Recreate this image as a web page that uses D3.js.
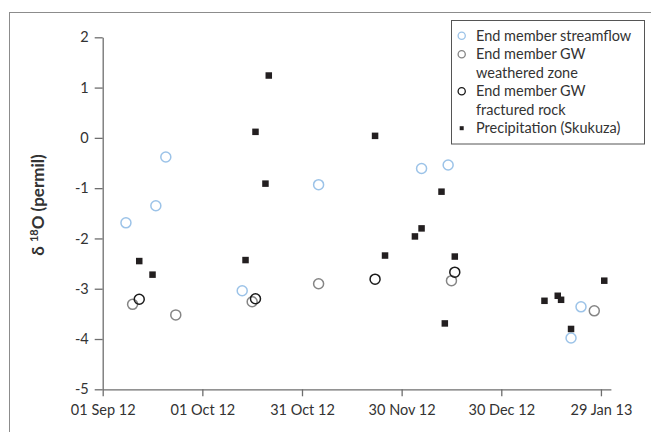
<!DOCTYPE html>
<html>
<head>
<meta charset="utf-8">
<script src="https://cdn.jsdelivr.net/npm/d3@7"></script>
<style>
  body { margin: 0; background: #fff; }
  svg { display: block; font-family: Lato, "Open Sans", sans-serif; }
</style>
</head>
<body>
<div id="chart"></div>
<script>
// --- données ---
const streamflowDates = ["2012-09-08", "2012-09-17", "2012-09-20", "2012-10-13", "2012-11-05", "2012-12-06", "2012-12-14", "2013-01-20", "2013-01-23"];
const streamflowValues = [-1.69, -1.35, -0.38, -3.04, -0.93, -0.61, -0.54, -3.98, -3.36];

const weatheredDates = ["2012-09-10", "2012-09-23", "2012-10-16", "2012-11-05", "2012-12-15", "2013-01-27"];
const weatheredValues = [-3.31, -3.52, -3.26, -2.90, -2.84, -3.44];

const fracturedDates = ["2012-09-12", "2012-10-17", "2012-11-22", "2012-12-16"];
const fracturedValues = [-3.21, -3.20, -2.81, -2.67];

const precipDates = ["2012-09-12", "2012-09-16", "2012-10-14", "2012-10-17", "2012-10-20", "2012-10-21",
                     "2012-11-22", "2012-11-25", "2012-12-04", "2012-12-06", "2012-12-12", "2012-12-13",
                     "2012-12-16", "2013-01-12", "2013-01-16", "2013-01-17", "2013-01-20", "2013-01-30"];
const precipValues = [-2.45, -2.72, -2.43, 0.12, -0.91, 1.24,
                      0.04, -2.34, -1.96, -1.80, -1.07, -3.69,
                      -2.36, -3.24, -3.14, -3.22, -3.80, -2.84];

const xTickDates = ["2012-09-01", "2012-10-01", "2012-10-31", "2012-11-30", "2012-12-30", "2013-01-29"];
const yTicks = [-5, -4, -3, -2, -1, 0, 1, 2];

const legendLabels = [
    ["End member streamflow"],
    ["End member GW", "weathered zone"],
    ["End member GW", "fractured rock"],
    ["Precipitation (Skukuza)"]
];

// --- mise en page ---
const width = 651, height = 432;
const parse = d3.utcParse("%Y-%m-%d");
const plot = { left: 102.7, right: 610.9, top: 37.3, bottom: 389.3 };

const svg = d3.select("#chart").append("svg")
    .attr("width", width)
    .attr("height", height);

// cadre extérieur (coupé à droite et en bas)
svg.append("rect")
    .attr("x", 9.5).attr("y", 12.5)
    .attr("width", 700).attr("height", 500)
    .attr("fill", "none")
    .attr("stroke", "#8c8c8c");

const x = d3.scaleUtc()
    .domain([parse("2012-09-01"), parse("2013-02-01")])
    .range([plot.left, plot.right]);

const y = d3.scaleLinear()
    .domain([-5, 2])
    .range([plot.bottom, plot.top]);

// axe X
const xAxis = svg.append("g")
    .attr("transform", `translate(0,${plot.bottom})`)
    .call(d3.axisBottom(x)
        .tickValues(xTickDates.map(parse))
        .tickFormat(d3.utcFormat("%d %b %y"))
        .tickSizeInner(7).tickSizeOuter(0));

// axe Y (trait d'union comme dans Excel)
const yAxis = svg.append("g")
    .attr("transform", `translate(${plot.left},0)`)
    .call(d3.axisLeft(y)
        .tickValues(yTicks)
        .tickFormat(d => String(d))
        .tickSizeInner(8).tickSizeOuter(0));

[xAxis, yAxis].forEach(a => {
    a.select(".domain").attr("stroke", "#6e6e6e").attr("stroke-width", 1.3);
    a.selectAll(".tick line").attr("stroke", "#6e6e6e").attr("stroke-width", 1.3);
    a.selectAll(".tick text")
        .attr("fill", "#333")
        .style("font-size", "14.5px")
        .style("font-family", "Lato, sans-serif");
});
xAxis.selectAll(".tick text").attr("dy", "1.05em");
yAxis.selectAll(".tick text").attr("x", -14);

// titre de l'axe Y
const yTitle = svg.append("text")
    .attr("transform", "translate(44,205) rotate(-90)")
    .attr("text-anchor", "middle")
    .attr("fill", "#333")
    .style("font-size", "17px")
    .style("font-weight", "bold");
yTitle.append("tspan").text("δ ");
yTitle.append("tspan").attr("font-size", "11px").attr("dy", "-6").text("18");
yTitle.append("tspan").attr("dy", "6").text("O (permil)");

// --- séries ---
const circleSeries = [
    { dates: streamflowDates, values: streamflowValues, color: "#9cc3e8" },
    { dates: weatheredDates, values: weatheredValues, color: "#858585" },
    { dates: fracturedDates, values: fracturedValues, color: "#1a1a1a" }
];

circleSeries.forEach(s => {
    svg.append("g").selectAll("circle")
        .data(s.dates.map((d, i) => ({ date: parse(d), value: s.values[i] })))
        .enter()
        .append("circle")
        .attr("cx", d => x(d.date))
        .attr("cy", d => y(d.value))
        .attr("r", 5)
        .attr("fill", "none")
        .attr("stroke", s.color)
        .attr("stroke-width", 1.5);
});

const sq = 6.5;
svg.append("g").selectAll("rect")
    .data(precipDates.map((d, i) => ({ date: parse(d), value: precipValues[i] })))
    .enter()
    .append("rect")
    .attr("x", d => x(d.date) - sq / 2)
    .attr("y", d => y(d.value) - sq / 2)
    .attr("width", sq)
    .attr("height", sq)
    .attr("fill", "#231f20");

// --- légende ---
const legend = svg.append("g");
legend.append("rect")
    .attr("x", 451.5).attr("y", 20.5)
    .attr("width", 193).attr("height", 123.5)
    .attr("fill", "#fff")
    .attr("stroke", "#555");

const lineH = 18.5;
let row = 0;
legendLabels.forEach((lines, i) => {
    const cy = 35.7 + row * lineH;
    if (i < 3) {
        legend.append("circle")
            .attr("cx", 461.7).attr("cy", cy).attr("r", 3.6)
            .attr("fill", "none")
            .attr("stroke", circleSeries[i].color)
            .attr("stroke-width", 1.3);
    } else {
        legend.append("rect")
            .attr("x", 459.7).attr("y", cy - 2)
            .attr("width", 4).attr("height", 4)
            .attr("fill", "#231f20");
    }
    lines.forEach(l => {
        legend.append("text")
            .attr("x", 476)
            .attr("y", 35.7 + row * lineH)
            .attr("dy", "0.36em")
            .attr("fill", "#333")
            .style("font-size", "14.5px")
            .text(l);
        row++;
    });
});
</script>
</body>
</html>
